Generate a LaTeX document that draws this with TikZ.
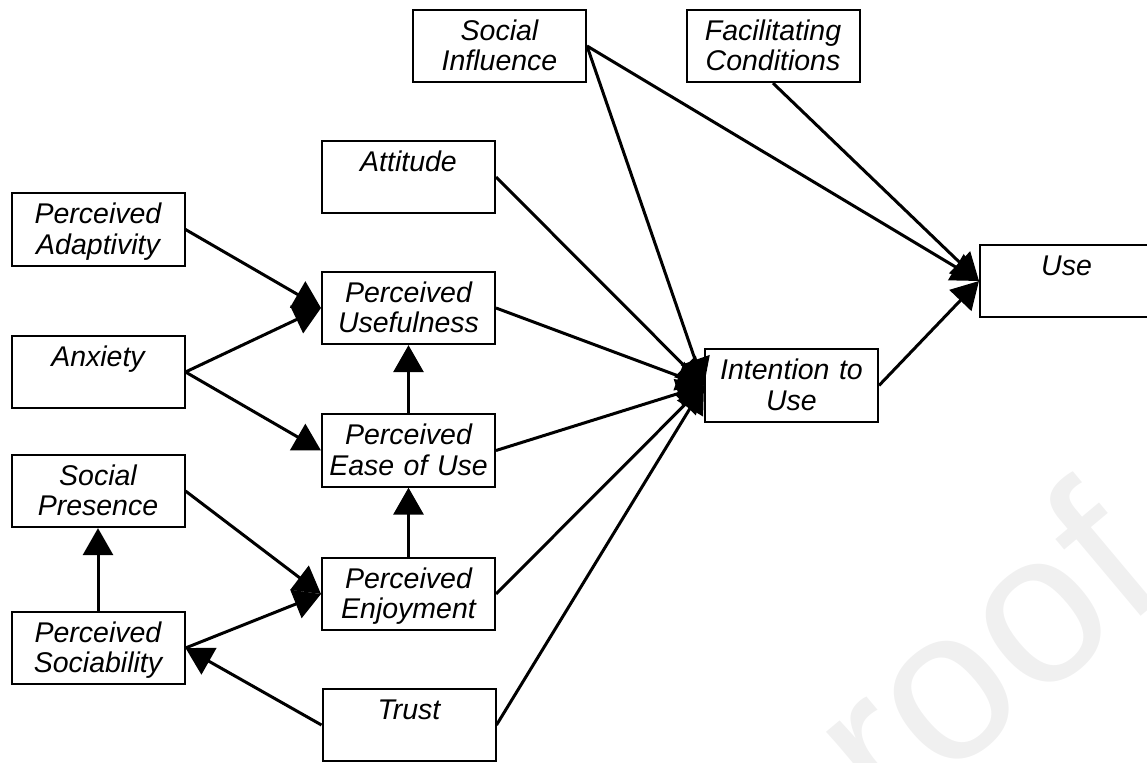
\documentclass[tikz,border=0pt]{standalone}
\usepackage{fontspec}
\setmainfont{Liberation Sans}
\usetikzlibrary{arrows.meta}
\newcommand\twol[2]{\rule{0pt}{30.5pt}#1\\#2\rule[-11.3pt]{0pt}{11.3pt}}
\begin{document}
\begin{tikzpicture}[x=1pt,y=-1pt,
  box/.style={draw, line width=2pt, rectangle, inner sep=0pt, text width=173pt,
    align=center, font=\itshape\fontsize{28.5}{30.5}\selectfont},
  conn/.style={line width=3pt, -{Triangle[length=27pt,width=30pt]}},
  wm/.style={text=black!6, font=\fontsize{215}{220}\selectfont, inner sep=0pt}]
\useasboundingbox (0,0) rectangle (1147,762);
\clip (0,0) rectangle (1147,762);
% watermark
\node[wm, rotate=40, anchor=base east] (wmark) at (1172,590) {roof};
% boxes
\node[box] (si)   at (499.5,46)  {\twol{Social}{Influence}};
\node[box] (fc)   at (773,46)    {\twol{Facilitating}{Conditions}};
\node[box] (att)  at (408.5,177) {\twol{Attitude}{}};
\node[box] (pa)   at (98,229.5)  {\twol{Perceived}{Adaptivity}};
\node[box] (pu)   at (408.5,308) {\twol{Perceived}{Usefulness}};
\node[box] (anx)  at (98,372)    {\twol{Anxiety}{}};
\node[box] (peou) at (408.5,450.5) {\twol{Perceived}{Ease of Use}};
\node[box] (sp)   at (98,491)    {\twol{Social}{Presence}};
\node[box] (pe)   at (408.5,594) {\twol{Perceived}{Enjoyment}};
\node[box] (ps)   at (98,648)    {\twol{Perceived}{Sociability}};
\node[box] (tr)   at (409,725)   {\twol{Trust}{}};
\node[box] (iu)   at (791.5,385.5) {\twol{Intention to}{Use}};
\node[box] (use)  at (1066.5,281) {\twol{Use}{}};
% connectors
\draw[conn] (pa.east) -- (pu.west);
\draw[conn] (anx.east) -- (pu.west);
\draw[conn] (anx.east) -- (peou.west);
\draw[conn] (peou.north) -- (pu.south);
\draw[conn] (pe.north) -- (peou.south);
\draw[conn] (sp.east) -- (pe.west);
\draw[conn] (ps.east) -- (pe.west);
\draw[conn] (ps.north) -- (sp.south);
\draw[conn] (tr.west) -- (ps.east);
\draw[conn] (att.east) -- (iu.west);
\draw[conn] (si.east) -- (iu.west);
\draw[conn] (pu.east) -- (iu.west);
\draw[conn] (peou.east) -- (iu.west);
\draw[conn] (pe.east) -- (iu.west);
\draw[conn] (tr.east) -- (iu.west);
\draw[conn] (si.east) -- (use.west);
\draw[conn] (fc.south) -- (use.west);
\draw[conn] (iu.east) -- (use.west);
\end{tikzpicture}
\end{document}
